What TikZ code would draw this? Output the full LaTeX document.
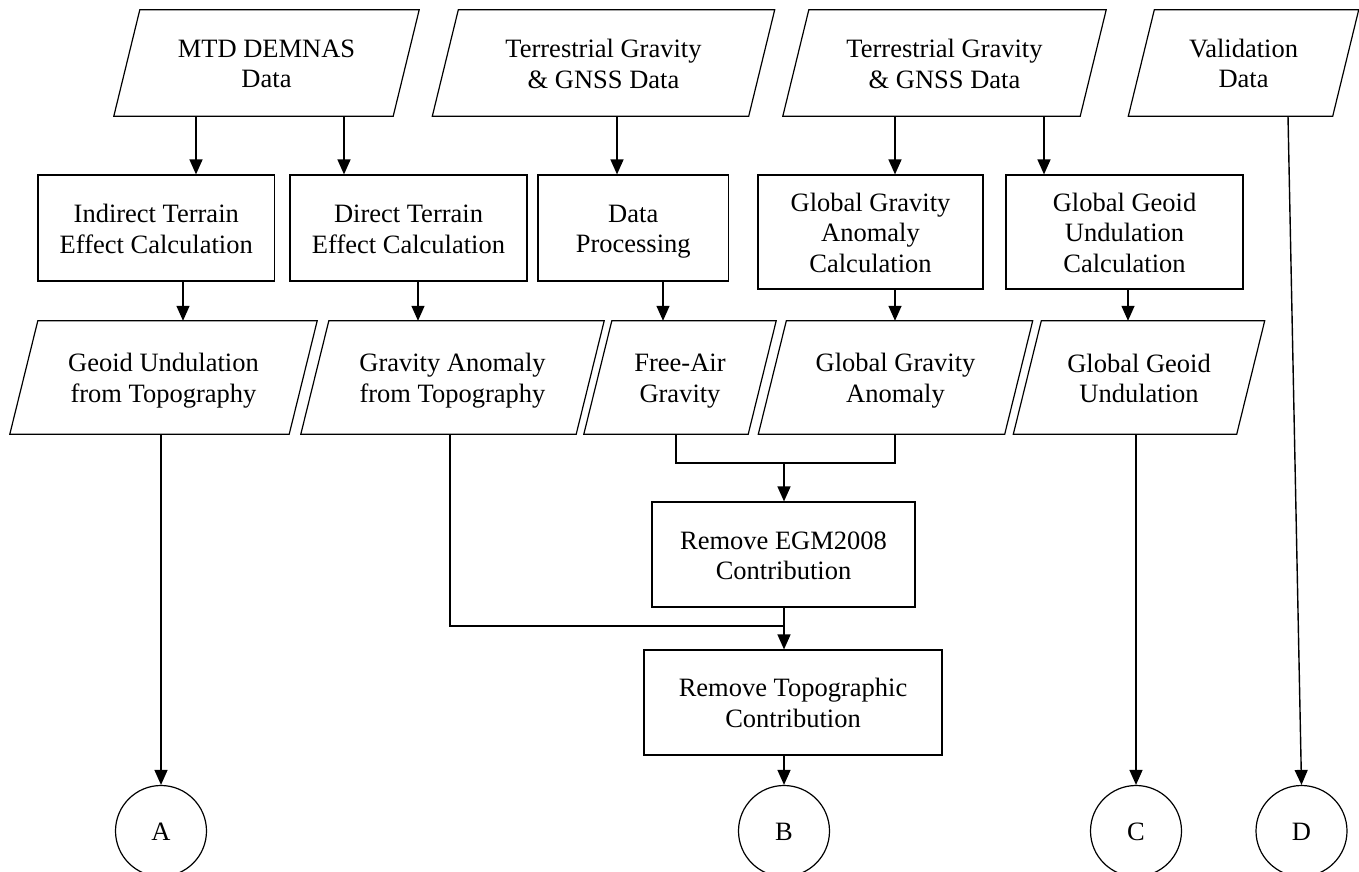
\documentclass[tikz,border=0pt]{standalone}
\usepackage{fontspec}
\usepackage{array}
\setmainfont{Liberation Serif}
\usetikzlibrary{arrows.meta,calc}
\newcommand{\lblstrut}{\rule[-5.5pt]{0pt}{30.5pt}}
\newcolumntype{L}{>{\lblstrut}c}
\newcommand{\lbl}[1]{{\renewcommand{\arraystretch}{0}\begin{tabular}{@{}L@{}}#1\end{tabular}}}
\tikzset{
  base/.style={font=\fontsize{26.5}{30.5}\selectfont, inner sep=0pt},
  box/.style={base, draw, line width=1.2pt},
  pg/.style={base},
  term/.style={base, draw, circle, line width=1.2pt, minimum size=91pt},
  arr/.style={line width=1.4pt, -{Triangle[length=15pt,width=13pt]}},
  ln/.style={line width=1.4pt},
  pgline/.style={line width=1.2pt, line join=miter}
}
\newcommand{\pgramoutline}[2]{%
  \draw[pgline] ([xshift=#2]#1.north west) -- ([xshift=#2]#1.north east)
    -- ([xshift=-#2]#1.south east) -- ([xshift=-#2]#1.south west) -- cycle;}
\begin{document}
\begin{tikzpicture}[x=1pt,y=-1pt]
\useasboundingbox (0,0) rectangle (1359,872);

% top row: input data
\node[pg, minimum width=279pt, minimum height=106pt] (mtd) at (266.5,63) {\lbl{MTD DEMNAS\\Data}};
\node[pg, minimum width=316pt, minimum height=106pt] (tg1) at (603.5,63) {\lbl{Terrestrial Gravity\\\& GNSS Data}};
\node[pg, minimum width=297pt, minimum height=106pt] (tg2) at (944.5,63) {\lbl{Terrestrial Gravity\\\& GNSS Data}};
\node[pg, minimum width=204pt, minimum height=106pt] (val) at (1243.5,63) {\lbl{Validation\\Data}};
\pgramoutline{mtd}{13pt}
\pgramoutline{tg1}{13pt}
\pgramoutline{tg2}{13pt}
\pgramoutline{val}{13pt}

% second row: processes
\node[box, minimum width=236.5pt, minimum height=106pt] (ind) at (156.25,228) {\lbl{Indirect Terrain\\Effect Calculation}};
\node[box, minimum width=237pt, minimum height=106pt] (dir) at (408.5,228) {\lbl{Direct Terrain\\Effect Calculation}};
\node[box, minimum width=190.5pt, minimum height=106pt] (dp) at (633.25,228) {\lbl{Data\\Processing}};
\node[box, minimum width=225pt, minimum height=114pt] (gga) at (870.5,232) {\lbl{Global Gravity\\Anomaly\\Calculation}};
\node[box, minimum width=237pt, minimum height=114pt] (ggu) at (1124.5,232) {\lbl{Global Geoid\\Undulation\\Calculation}};

% third row: results
\node[pg, minimum width=279pt, minimum height=113pt] (geo) at (163.5,377.5) {\lbl{Geoid Undulation\\from Topography}};
\node[pg, minimum width=275pt, minimum height=113pt] (gat) at (452.5,377.5) {\lbl{Gravity Anomaly\\from Topography}};
\node[pg, minimum width=164pt, minimum height=113pt] (fag) at (680,377.5) {\lbl{Free-Air\\Gravity}};
\node[pg, minimum width=246pt, minimum height=113pt] (gan) at (895.5,377.5) {\lbl{Global Gravity\\Anomaly}};
\node[pg, minimum width=223pt, minimum height=113pt] (ggn) at (1139,377.5) {\lbl{Global Geoid\\Undulation}};
\pgramoutline{geo}{14pt}
\pgramoutline{gat}{14pt}
\pgramoutline{fag}{14pt}
\pgramoutline{gan}{14pt}
\pgramoutline{ggn}{14pt}

% remove steps
\node[box, minimum width=263pt, minimum height=105pt] (rem1) at (783.5,554.5) {\lbl{Remove EGM2008\\Contribution}};
\node[box, minimum width=298pt, minimum height=105pt] (rem2) at (793,702.5) {\lbl{Remove Topographic\\Contribution}};

% off-page connectors
\node[term] (A) at (161,831) {\lbl{A}};
\node[term] (B) at (784,831) {\lbl{B}};
\node[term] (C) at (1136,831) {\lbl{C}};
\node[term] (D) at (1301.5,831) {\lbl{D}};

% column coordinates
\coordinate (c196) at (196,0);
\coordinate (c344) at (344,0);
\coordinate (c617) at (617,0);
\coordinate (c895) at (895,0);
\coordinate (c1044) at (1044,0);
\coordinate (c183) at (183,0);
\coordinate (c418) at (418,0);
\coordinate (c663) at (663,0);
\coordinate (c1128) at (1128,0);
\coordinate (c1288) at (1288,0);
\coordinate (c676) at (676,0);
\coordinate (c450) at (450,0);
\coordinate (m1) at (784,463);
\coordinate (m2) at (784,626);

\draw[arr] (mtd.south -| c196) -- (ind.north -| c196);
\draw[arr] (mtd.south -| c344) -- (dir.north -| c344);
\draw[arr] (tg1.south -| c617) -- (dp.north -| c617);
\draw[arr] (tg2.south -| c895) -- (gga.north -| c895);
\draw[arr] (tg2.south -| c1044) -- (ggu.north -| c1044);

\draw[arr] (ind.south -| c183) -- (geo.north -| c183);
\draw[arr] (dir.south -| c418) -- (gat.north -| c418);
\draw[arr] (dp.south -| c663) -- (fag.north -| c663);
\draw[arr] (gga.south -| c895) -- (gan.north -| c895);
\draw[arr] (ggu.south -| c1128) -- (ggn.north -| c1128);

\draw[arr] (geo.south -| A.north) -- (A.north);
\draw[arr] (ggn.south -| C.north) -- (C.north);
\draw[arr] (val.south -| c1288) -- (D.north);

\draw[ln] (fag.south -| c676) |- (m1) -| (gan.south -| c895);
\draw[arr] (m1) -- (rem1.north -| m1);
\draw[ln] (gat.south -| c450) |- (m2);
\draw[arr] (rem1.south -| m1) -- (rem2.north -| m1);
\draw[arr] (rem2.south -| B.north) -- (B.north);
\end{tikzpicture}
\end{document}
